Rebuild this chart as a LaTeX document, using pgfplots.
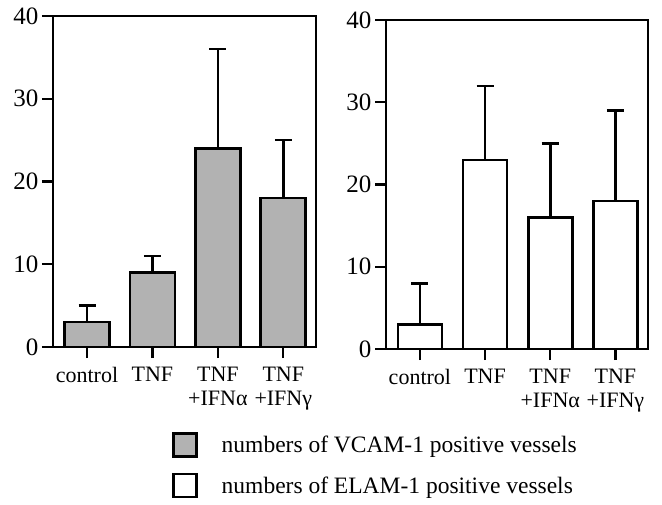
\documentclass[border=0pt]{standalone}
\usepackage{fontspec}
\setmainfont{Liberation Serif}
\usepackage{pgfplots}
\pgfplotsset{compat=1.18}
\pgfplotsset{
  sqlegend/.style={legend image code/.code={\draw[##1] (0bp,-11bp) rectangle (23bp,12bp);}},
  panel/.style={
    scale only axis,
    xmin=-0.52, xmax=3.5, ymin=0, ymax=40,
    ytick={0,10,20,30,40}, xtick={0,1,2,3},
    xticklabels={control, TNF, {TNF\\+IFNα}, {TNF\\+IFNγ}},
    xtick pos=bottom, ytick pos=left,
    tick align=outside, major tick length=11bp,
    tick style={line width=2.2bp, black},
    axis line style={line width=2.2bp},
    /pgf/number format/assume math mode=true,
    xticklabel style={align=center, yshift=-6bp, font=\fontsize{22bp}{24bp}\selectfont},
    yticklabel style={font=\fontsize{25bp}{27bp}\selectfont},
  },
  bars/.style={ybar, bar width=45bp, draw=black, line width=2.6bp,
    error bars/y dir=plus, error bars/y explicit,
    error bars/error bar style={line width=2.6bp, black},
    error bars/error mark options={rotate=90, mark size=8.5bp, line width=2.6bp, black}},
}
\begin{document}
\begin{tikzpicture}
\path (0bp,0bp) rectangle (662bp,-505bp);
\begin{axis}[panel, at={(53bp,-347bp)}, anchor=south west, width=263bp, height=331bp]
\addplot[bars, fill=black!30] coordinates {
  (0,3) +- (0,2)
  (1,9) +- (0,2)
  (2,24) +- (0,12)
  (3,18) +- (0,7)
};
\end{axis}
\begin{axis}[panel, at={(386bp,-349bp)}, anchor=south west, width=262bp, height=329bp,
  legend style={at={(axis description cs:-0.817,-0.252)}, anchor=north west,
    draw=none, fill=none, inner sep=0pt, row sep=15bp,
    font=\fontsize{23.5bp}{26bp}\selectfont,
    /tikz/every odd column/.append style={column sep=22bp}},
  legend cell align=left]
\addlegendimage{sqlegend, fill=black!30, draw=black, line width=2.6bp}
\addlegendentry{numbers of VCAM-1 positive vessels}
\addlegendimage{sqlegend, fill=white, draw=black, line width=2.6bp}
\addlegendentry{numbers of ELAM-1 positive vessels}
\addplot[bars, fill=white, bar width=44bp, forget plot] coordinates {
  (0,3) +- (0,5)
  (1,23) +- (0,9)
  (2,16) +- (0,9)
  (3,18) +- (0,11)
};
\end{axis}
\end{tikzpicture}
\end{document}
